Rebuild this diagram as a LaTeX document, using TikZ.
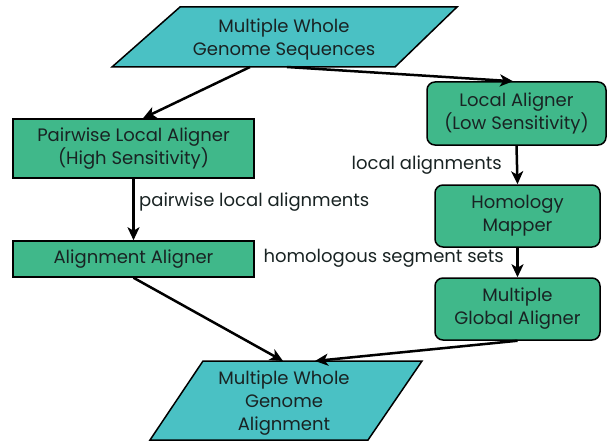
\documentclass[tikz,border=0pt]{standalone}
\usepackage{fontspec}
\setmainfont{Poppins}
\usetikzlibrary{arrows.meta}
\definecolor{tealfill}{RGB}{74,193,196}
\definecolor{boxfill}{RGB}{64,184,138}
\definecolor{inkc}{RGB}{25,35,35}
\tikzset{
  para/.style={draw=black, line width=1.5pt, fill=tealfill, line join=miter},
  procbox/.style={draw=black, line width=1.5pt, fill=boxfill, rectangle, inner sep=0pt, align=center, font=\fontsize{18}{23}\selectfont, text=inkc},
  rproc/.style={procbox, rounded corners=8pt},
  ptext/.style={align=center, font=\fontsize{18}{23}\selectfont, text=inkc, inner sep=0pt},
  lbl/.style={font=\fontsize{18}{20}\selectfont, text=inkc, inner sep=0pt},
  conn/.style={draw=black, line width=2.5pt, -{Stealth[length=13pt,width=12pt,inset=3.5pt]}},
}
\begin{document}
\begin{tikzpicture}[x=1pt,y=-1pt]
\useasboundingbox (0,0) rectangle (609,441);
% top parallelogram
\path[para] (180,7) -- (457,7) -- (395,67) -- (112,67) -- cycle;
\node[ptext] (src) at (284,39) {Multiple Whole\\Genome Sequences};
\coordinate (srcL) at (250,67);
\coordinate (srcR) at (287,67);
% bottom parallelogram
\path[para] (203,361) -- (422,361) -- (368,440) -- (150,440) -- cycle;
\node[ptext] (out) at (284,403) {Multiple Whole\\Genome\\Alignment};
\coordinate (outL) at (283,361);
\coordinate (outR) at (315,361);
% boxes
\node[procbox, minimum width=241pt, minimum height=59pt] (pla) at (133.5,148.5) {Pairwise Local Aligner\\(High Sensitivity)};
\node[procbox, minimum width=241pt, minimum height=36pt] (aa) at (133.5,259) {Alignment Aligner};
\node[rproc, minimum width=179pt, minimum height=63pt] (loc) at (516.5,113.5) {Local Aligner\\(Low Sensitivity)};
\node[rproc, minimum width=165pt, minimum height=62pt] (hom) at (517.5,216) {Homology\\Mapper};
\node[rproc, minimum width=165pt, minimum height=62pt] (mga) at (517.5,309) {Multiple\\Global Aligner};
% connectors
\draw[conn] (srcL) -- ([xshift=9.5pt]pla.north);
\draw[conn] (srcR) -- ([xshift=-3.5pt]loc.north);
\draw[conn] (pla.south) -- (aa.north);
\draw[conn] (loc.south) -- (hom.north);
\draw[conn] (hom.south) -- (mga.north);
\draw[conn] (aa.south) -- (outL);
\draw[conn] (mga.south) -- (outR);
% labels
\node[lbl, anchor=west] (l1) at (139,202) {pairwise local alignments};
\node[lbl, anchor=east] (l2) at (502,165) {local alignments};
\node[lbl, anchor=east] (l3) at (504,258) {homologous segment sets};
\end{tikzpicture}
\end{document}
